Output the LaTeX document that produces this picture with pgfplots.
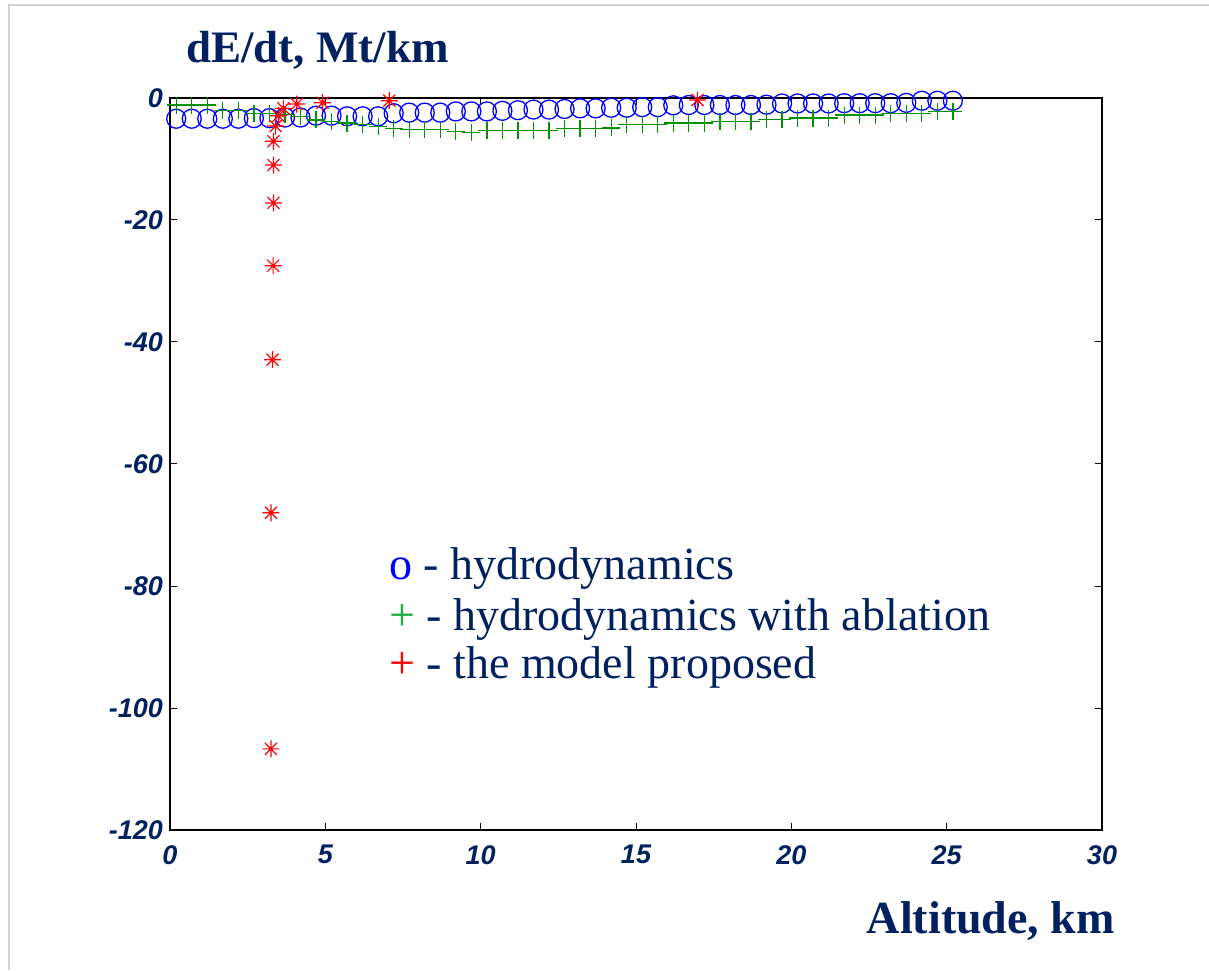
\documentclass[border=0pt]{standalone}
\usepackage{pgfplots}
\pgfplotsset{compat=1.18}
\usepackage{fontspec}
\setmainfont{Liberation Serif}
\newfontfamily\tickfont{Liberation Sans}
\definecolor{navy}{HTML}{002060}
\definecolor{mblue}{RGB}{0,0,255}
\definecolor{mgreen}{RGB}{0,145,0}
\definecolor{lgreen}{RGB}{30,170,70}
\definecolor{mred}{RGB}{255,0,0}
\pgfdeclareplotmark{star8}{%
  \pgfpathmoveto{\pgfqpoint{-\pgfplotmarksize}{0pt}}\pgfpathlineto{\pgfqpoint{\pgfplotmarksize}{0pt}}%
  \pgfpathmoveto{\pgfqpoint{0pt}{-\pgfplotmarksize}}\pgfpathlineto{\pgfqpoint{0pt}{\pgfplotmarksize}}%
  \pgfpathmoveto{\pgfqpoint{-0.707\pgfplotmarksize}{-0.707\pgfplotmarksize}}\pgfpathlineto{\pgfqpoint{0.707\pgfplotmarksize}{0.707\pgfplotmarksize}}%
  \pgfpathmoveto{\pgfqpoint{-0.707\pgfplotmarksize}{0.707\pgfplotmarksize}}\pgfpathlineto{\pgfqpoint{0.707\pgfplotmarksize}{-0.707\pgfplotmarksize}}%
  \pgfusepathqstroke}
\pgfdeclareplotmark{wideplus}{%
  \pgfpathmoveto{\pgfqpoint{-1.05\pgfplotmarksize}{0pt}}\pgfpathlineto{\pgfqpoint{1.05\pgfplotmarksize}{0pt}}%
  \pgfpathmoveto{\pgfqpoint{0pt}{-\pgfplotmarksize}}\pgfpathlineto{\pgfqpoint{0pt}{\pgfplotmarksize}}%
  \pgfusepathqstroke}
\begin{document}
\begin{tikzpicture}
\useasboundingbox (0,0) rectangle (1209pt,970pt);
\draw[gray!35, line width=1.5pt] (9pt,0pt) -- (9pt,965pt) -- (1209pt,965pt);
\begin{axis}[
  at={(170pt,140pt)}, anchor=south west,
  scale only axis, width=932pt, height=732pt,
  xmin=0, xmax=30, ymin=-120, ymax=0,
  xtick={0,5,...,30}, ytick={-120,-100,...,0},
  tick align=inside, major tick length=7pt,
  axis line style={line width=1.5pt, black},
  every tick/.style={black, line width=1pt},
  clip=false,
  /pgf/number format/assume math mode=true,
  tick label style={font=\tickfont\bfseries\itshape\fontsize{27}{27}\selectfont, text=navy, inner sep=0pt},
  xticklabel style={anchor=north, yshift=-15pt},
  yticklabel style={anchor=east, xshift=-7pt},
]
\addplot[only marks, mark=o, mark size=9.5pt, mblue, line width=1.3pt] coordinates {
(0.2,-3.4) (0.7,-3.4) (1.2,-3.4) (1.7,-3.4) (2.2,-3.4) (2.7,-3.3) (3.2,-3.3) (3.7,-3.2) (4.2,-3.2)
(4.7,-2.9) (5.2,-2.9) (5.7,-3.0) (6.2,-3.0) (6.7,-3.0) (7.2,-2.5) (7.7,-2.4) (8.2,-2.4) (8.7,-2.4)
(9.2,-2.2) (9.7,-2.2) (10.2,-2.2) (10.7,-2.1) (11.2,-2.0) (11.7,-1.9) (12.2,-1.9) (12.7,-1.8)
(13.2,-1.7) (13.7,-1.7) (14.2,-1.6) (14.7,-1.6) (15.2,-1.5) (15.7,-1.5) (16.2,-1.2) (16.7,-1.15)
(17.2,-1.15) (17.7,-1.15) (18.2,-1.15) (18.7,-1.15) (19.2,-1.1) (19.7,-0.9) (20.2,-0.9) (20.7,-0.9)
(21.2,-0.9) (21.7,-0.85) (22.2,-0.85) (22.7,-0.85) (23.2,-0.85) (23.7,-0.8) (24.2,-0.45) (24.7,-0.45) (25.2,-0.45)
};
\addplot[only marks, mark=wideplus, mark size=8.5pt, mgreen, line width=1.3pt] coordinates {
(0.2,-1.15) (0.7,-1.15) (1.2,-1.15) (1.7,-2.0) (2.2,-2.0) (2.7,-2.5) (3.2,-2.5) (3.7,-2.7) (4.2,-3.0)
(4.7,-3.6) (5.2,-3.9) (5.7,-4.1) (6.2,-4.4) (6.7,-4.7) (7.2,-5.0) (7.7,-5.2) (8.2,-5.2) (8.7,-5.2)
(9.2,-5.5) (9.7,-5.6) (10.2,-5.3) (10.7,-5.3) (11.2,-5.3) (11.7,-5.3) (12.2,-5.3) (12.7,-5.0)
(13.2,-5.0) (13.7,-5.0) (14.2,-4.9) (14.7,-4.4) (15.2,-4.4) (15.7,-4.4) (16.2,-4.1) (16.7,-4.1)
(17.2,-4.1) (17.7,-3.8) (18.2,-3.8) (18.7,-3.8) (19.2,-3.5) (19.7,-3.5) (20.2,-3.3) (20.7,-3.3)
(21.2,-3.3) (21.7,-2.8) (22.2,-2.8) (22.7,-2.8) (23.2,-2.5) (23.7,-2.5) (24.2,-2.5) (24.7,-2.2) (25.2,-2.2)
};
\addplot[only marks, mark=star8, mark size=8.5pt, mred, line width=1.2pt] coordinates {
(3.25,-106.7) (3.25,-68.0) (3.3,-42.9) (3.32,-27.5) (3.33,-17.2) (3.33,-11.0) (3.33,-7.1)
(3.4,-4.6) (3.49,-2.9) (3.65,-1.7) (4.08,-1.0) (4.91,-0.77) (7.06,-0.44) (16.98,-0.33)
};
\node[anchor=base west, inner sep=0pt, font=\fontsize{46}{46}\selectfont, text=navy] at (axis cs:7.05,-79.0) {\textcolor{mblue}{o} - hydrodynamics};
\node[anchor=base west, inner sep=0pt, font=\fontsize{46}{46}\selectfont, text=navy] at (axis cs:7.05,-87.3) {\textcolor{lgreen}{+} - hydrodynamics with ablation};
\node[anchor=base west, inner sep=0pt, font=\fontsize{46}{46}\selectfont, text=navy] at (axis cs:7.05,-95.2) {\textcolor{mred}{+} - the model proposed};
\end{axis}
\node[anchor=base west, inner sep=0pt, font=\bfseries\fontsize{45}{45}\selectfont, text=navy] at (186pt,907pt) {dE/dt, Mt/km};
\node[anchor=base east, inner sep=0pt, font=\bfseries\fontsize{46}{46}\selectfont, text=navy] at (1115pt,37pt) {Altitude, km};
\end{tikzpicture}
\end{document}
